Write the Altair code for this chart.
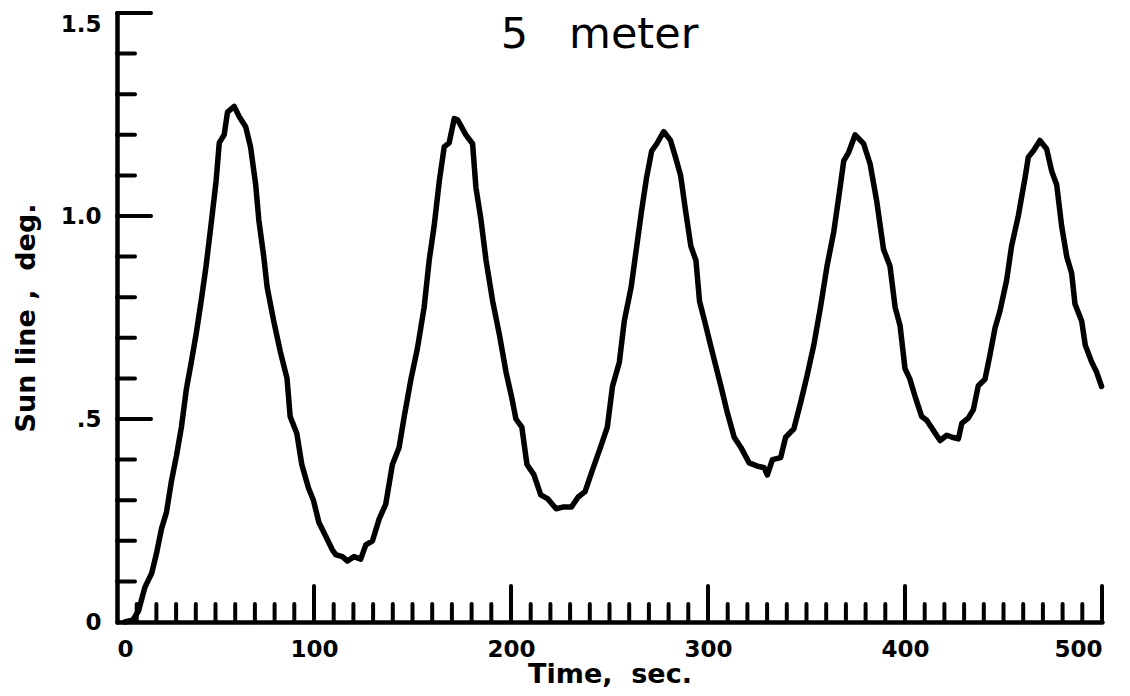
import altair as alt
import pandas as pd

# ---- data ----
time_s = [4, 8, 10.9, 14.2, 17.6, 20.1, 22.6, 25.1, 27.6, 30.2, 32.7, 35.2, 37.7, 40.2, 42.7, 45.2, 47.7,
          50.3, 51.9, 54.4, 56.1, 59.5, 62, 65.3, 67.8, 70.4, 72, 74.5, 76.2, 79.6, 82.9, 86.3, 87.9,
          91.3, 93.8, 97.2, 99.7,
          102.5, 105.9, 109.3, 111, 114.4, 117, 120.3, 123.7, 126.3, 129.7, 133.1, 136.4, 139.8, 143.2,
          145.8, 149.2, 152.5, 155.9, 158.5, 161, 163.6, 166.1, 168.6, 171.2, 172.9, 177.1, 180.5, 182.2,
          184.7, 187.3, 190.7, 194.1, 197.5,
          200.5, 202.5, 205.5, 208.1, 211.6, 215.1, 218.5, 222.9, 226.3, 230.7, 234.1, 237.6, 241.1,
          245.4, 248.9, 251.5, 255, 257.5, 261, 263.6, 266.2, 268.8, 271.4, 274, 277.5, 280.9, 283.5,
          286.1, 288.7, 291.3, 293.9, 295.7, 298.3, 301.7,
          306.6, 309.9, 313.3, 316.7, 320.9, 325.1, 328.5, 330.1, 332.7, 336.9, 339.4, 343.6, 347,
          350.3, 353.7, 357.1, 360.4, 363.8, 366.3, 368.9, 371.4, 374.7, 379, 382.3, 385.7, 389.1,
          392.4, 395, 397.5,
          400, 402.5, 405.1, 408.5, 411, 414.4, 417.8, 421.2, 424, 427.1, 428.8, 432.1, 434.7, 437.2,
          440.6, 443.1, 445.7, 448.2, 451.6, 454.1, 457.5, 460.9, 462.6, 465.1, 468.5, 471.9, 474.5,
          477, 479.5, 482.1, 484.6, 486.3, 489.7, 491.5, 494.8, 497.3, 499.8]
sun_line_deg = [0.0, 0.005, 0.027, 0.086, 0.12, 0.17, 0.23, 0.27, 0.346, 0.41, 0.48, 0.573, 0.64, 0.71,
                0.79, 0.876, 0.977, 1.086, 1.18, 1.2, 1.256, 1.27, 1.245, 1.22, 1.17, 1.077, 0.99, 0.9,
                0.825, 0.74, 0.666, 0.6, 0.506, 0.464, 0.388, 0.33, 0.30,
                0.245, 0.212, 0.178, 0.166, 0.161, 0.15, 0.161, 0.155, 0.19, 0.2, 0.254, 0.29, 0.388,
                0.43, 0.506, 0.598, 0.674, 0.775, 0.892, 0.976, 1.086, 1.17, 1.18, 1.24, 1.237, 1.2,
                1.178, 1.07, 0.993, 0.892, 0.79, 0.708, 0.615,
                0.55, 0.5, 0.48, 0.388, 0.363, 0.313, 0.304, 0.279, 0.283, 0.283, 0.308, 0.321, 0.371,
                0.43, 0.48, 0.58, 0.64, 0.741, 0.825, 0.918, 1.01, 1.094, 1.16, 1.178, 1.208, 1.187,
                1.145, 1.1, 1.01, 0.926, 0.89, 0.79, 0.741, 0.674,
                0.58, 0.514, 0.455, 0.43, 0.392, 0.384, 0.38, 0.362, 0.40, 0.405, 0.455, 0.476, 0.54,
                0.607, 0.682, 0.775, 0.876, 0.96, 1.044, 1.136, 1.157, 1.2, 1.178, 1.128, 1.035, 0.918,
                0.876, 0.775, 0.73,
                0.624, 0.598, 0.556, 0.506, 0.497, 0.472, 0.447, 0.46, 0.455, 0.451, 0.489, 0.502,
                0.523, 0.582, 0.598, 0.657, 0.724, 0.766, 0.842, 0.926, 1.0, 1.093, 1.145, 1.16, 1.186,
                1.165, 1.11, 1.077, 0.976, 0.9, 0.859, 0.783, 0.741, 0.682, 0.64, 0.615, 0.58]

x_label_values = [0, 100, 200, 300, 400, 500]
y_label_values = [0, 0.5, 1.0, 1.5]
x_minor_ticks = [t for t in range(10, 500, 10) if t % 100 != 0]
x_major_ticks = [100, 200, 300, 400, 500]
y_minor_ticks = [0.1, 0.2, 0.3, 0.4, 0.6, 0.7, 0.8, 0.9, 1.1, 1.2, 1.3, 1.4]
y_major_ticks = [0.5, 1.0, 1.5]

NB = "\u00a0"
title_text = "5" + NB * 3 + "meter"
x_title = "Time," + NB * 2 + "sec."
y_title = "Sun" + NB + "line" + NB + "," + NB * 2 + "deg."

W, H = 985, 609

curve = pd.DataFrame({"t": time_s, "v": sun_line_deg})

xscale = alt.Scale(domain=[0, 500], nice=False, zero=False)
yscale = alt.Scale(domain=[0, 1.5], nice=False)

font = "DejaVu Sans"

line = alt.Chart(curve).mark_line(
    color="black", strokeWidth=5.5, strokeJoin="round", strokeCap="round"
).encode(
    x=alt.X("t:Q", scale=xscale,
            axis=alt.Axis(values=x_label_values, title=x_title, format="d",
                          labelFontSize=23, labelPadding=16, titlePadding=0)),
    y=alt.Y("v:Q", scale=yscale,
            axis=alt.Axis(values=y_label_values, title=y_title,
                          labelExpr="datum.value == 0 ? '0' : (datum.value == 0.5 ? '.5' : format(datum.value, '.1f'))",
                          labelBaseline={"condition": {"test": "datum.value == 1.5", "value": "top"},
                                         "value": "middle"},
                          labelFontSize=23, labelPadding=16, titlePadding=20)),
)

ticks_style = dict(color="black", strokeWidth=4, strokeCap="round")

xt_minor = alt.Chart(pd.DataFrame({"t": x_minor_ticks})).mark_rule(**ticks_style).encode(
    x=alt.X("t:Q", scale=xscale), y=alt.value(H), y2=alt.value(H - 18))
xt_major = alt.Chart(pd.DataFrame({"t": x_major_ticks})).mark_rule(**ticks_style).encode(
    x=alt.X("t:Q", scale=xscale), y=alt.value(H), y2=alt.value(H - 36))
yt_minor = alt.Chart(pd.DataFrame({"v": y_minor_ticks})).mark_rule(**ticks_style).encode(
    y=alt.Y("v:Q", scale=yscale), x=alt.value(0), x2=alt.value(18))
yt_major = alt.Chart(pd.DataFrame({"v": y_major_ticks})).mark_rule(**ticks_style).encode(
    y=alt.Y("v:Q", scale=yscale), x=alt.value(0), x2=alt.value(34))

chart = alt.layer(line, xt_minor, xt_major, yt_minor, yt_major).properties(
    width=W, height=H,
    title=alt.TitleParams(title_text, fontSize=43, font=font, fontWeight="normal",
                          color="black", anchor="middle", dy=50, dx=-10),
    autosize=alt.AutoSizeParams(type="none"),
    padding={"left": 109, "top": 5, "right": 20, "bottom": 66},
).configure_view(stroke=None).configure_axis(
    grid=False, ticks=False, domainColor="black", domainWidth=4.5, domainCap="round",
    labelFont=font, labelFontWeight="bold", labelColor="black",
    titleFont=font, titleFontWeight="bold", titleFontSize=27, titleColor="black",
).configure_title(offset=0)

chart.save("out.html", embed_options={"renderer": "svg", "actions": False})
